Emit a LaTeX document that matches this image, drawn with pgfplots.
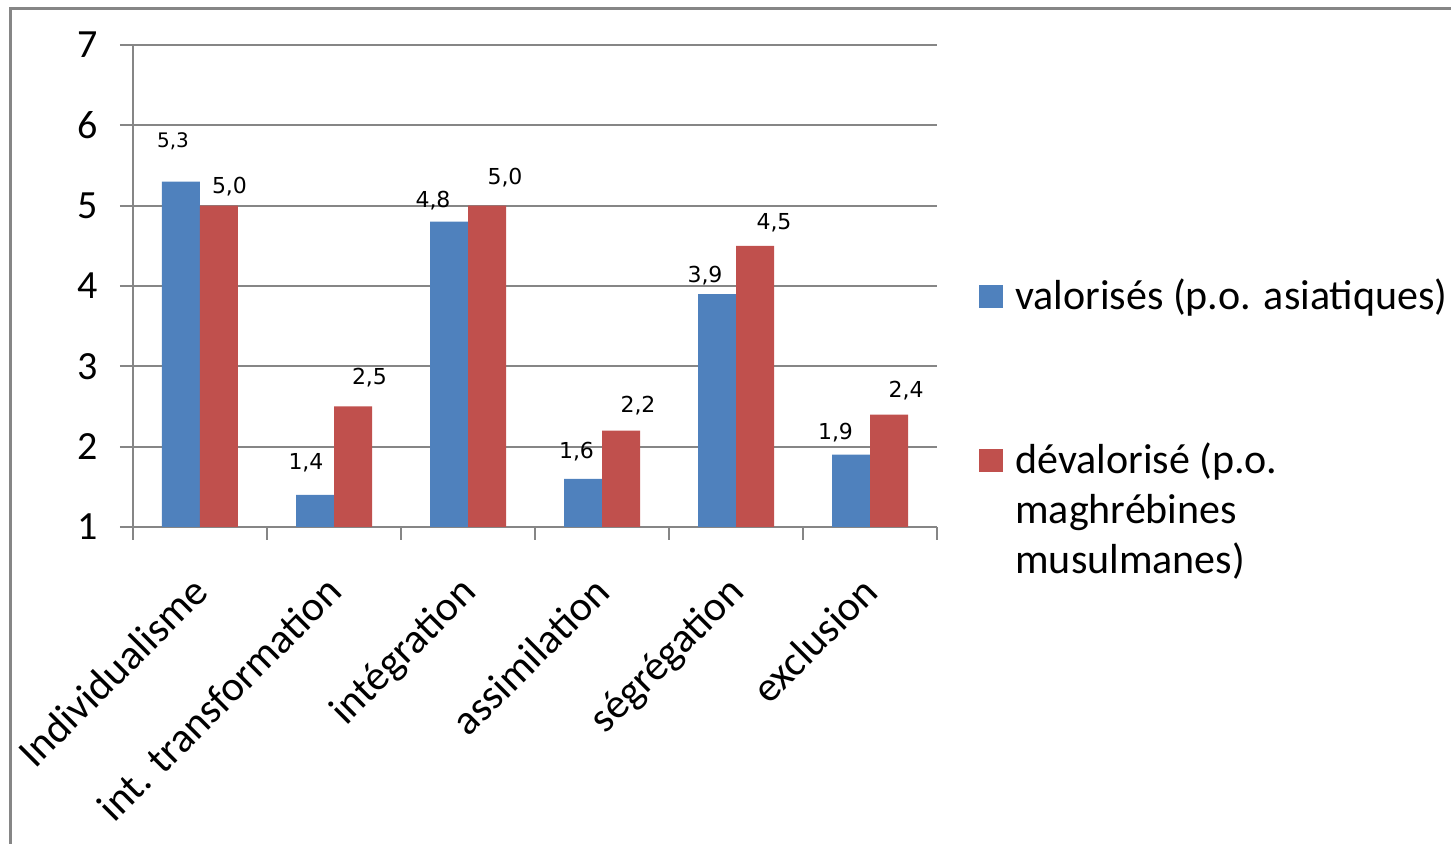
\documentclass[border=0pt]{standalone}
\usepackage{fontspec}
\setmainfont{Carlito}
\newfontfamily\dejavu{DejaVu Sans}
\usepackage{pgfplots}
\pgfplotsset{compat=1.18}
\usepackage{pgfplotstable}
\definecolor{bblue}{HTML}{4F81BD}
\definecolor{bred}{HTML}{C0504D}
\definecolor{lgray}{HTML}{868686}

\pgfplotstableread{
x y lab dx dy fs
0 5.3 5,3 -4 20 10
1 1.4 1,4 -4.5 16 11
2 4.8 4,8 -8 10.5 11
3 1.6 1,6 -3.25 13.5 11
4 3.9 3,9 -6 9 11
5 1.9 1,9 -7.75 11 11
}\valtable
\pgfplotstableread{
x y lab dx dy fs
0 5.0 5,0 5.25 9.75 11
1 2.5 2,5 8.25 14.25 11
2 5.0 5,0 9 14.25 11
3 2.2 2,2 8.5 12.5 11
4 4.5 4,5 9.5 11.75 11
5 2.4 2,4 8.5 11.8 11
}\devtable

\begin{document}
\begin{tikzpicture}
\useasboundingbox (-66.5pt,-158.5pt) rectangle (659pt,263.5pt);
\draw[lgray, line width=1.25pt] (-61.25pt,259.25pt) rectangle (700pt,-200pt);
\begin{axis}[
 at={(0pt,0pt)}, anchor=south west,
 scale only axis, width=402pt, height=241pt,
 xmin=-0.5, xmax=5.5, ymin=1, ymax=7,
 ybar=0pt, bar width=19pt,
 axis x line*=bottom, axis y line*=left,
 axis line style={lgray, line width=1pt, -},
 ymajorgrids, grid style={lgray, line width=1pt},
 ytick={1,...,7},
 xtick={0,...,5},
 xticklabels={Individualisme, int. transformation, intégration, assimilation, ségrégation, exclusion},
 minor xtick={-0.5,0.5,...,5.5},
 tick align=outside,
 major tick length=6.5pt, minor tick length=6.5pt,
 tick style={lgray, line width=1pt},
 major x tick style={draw=none},
 /pgf/number format/assume math mode=true,
 yticklabel style={font=\fontsize{20}{24}\selectfont, inner sep=0pt, xshift=-11pt},
 xticklabel style={font=\fontsize{21}{25}\selectfont, xshift=-5.2pt, yshift=-16.6pt, rotate=45, anchor=north east, inner sep=0pt},
 point meta=explicit symbolic,
 nodes near coords,
 visualization depends on={\thisrow{dx}\as\dx},
 visualization depends on={\thisrow{dy}\as\dy},
 visualization depends on={\thisrow{fs}\as\fs},
 nodes near coords style={anchor=center, inner sep=0pt, xshift=\dx pt, yshift=\dy pt, font=\dejavu\fontsize{\fs}{\fs}\selectfont, text=black},
 legend image code/.code={\fill[#1,draw=none] (0pt,0.5pt) rectangle (12pt,12pt);},
 legend style={at={(1.05224,0.5166)}, anchor=north west, draw=none, fill=none, inner sep=0pt,
   font=\fontsize{21}{25}\selectfont, row sep=63pt, column sep=6pt,
   nodes={inner sep=0pt, anchor=base west}},
 legend cell align=left,
]
\addplot[fill=bblue, draw=none] table[x=x, y=y, meta=lab] {\valtable};
\addlegendentry{valorisés (p.o. asiatiques)}
\addplot[fill=bred, draw=none] table[x=x, y=y, meta=lab] {\devtable};
\addlegendentry{\begin{tabular}[t]{@{}l@{}}dévalorisé (p.o.\\maghrébines\\musulmanes)\end{tabular}}
\end{axis}
\end{tikzpicture}
\end{document}
